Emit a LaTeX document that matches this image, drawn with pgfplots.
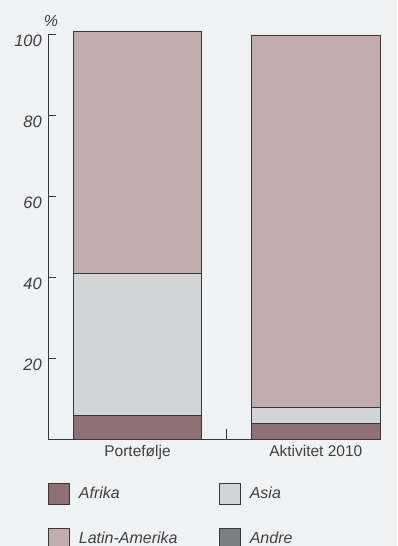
\documentclass[border=0pt]{standalone}
\usepackage{fontspec}
\setmainfont{Liberation Sans}
\usepackage{pgfplots}
\pgfplotsset{compat=1.18}

\definecolor{bg}{HTML}{F1F2F4}
\definecolor{afrika}{HTML}{8E7174}
\definecolor{asia}{HTML}{D3D4D6}
\definecolor{latin}{HTML}{BFAEAD}
\definecolor{andre}{HTML}{7E7F83}
\definecolor{ink}{HTML}{383838}
\definecolor{txt}{HTML}{404040}

\pgfplotsset{
  sq/.style={legend image code/.code={%
    \draw[##1, draw=ink, line width=0.8pt] (0pt,-10.5pt) rectangle (21pt,10.5pt);}},
}

\begin{document}
\begin{tikzpicture}
\fill[bg] (0,0) rectangle (397pt,546pt);
\useasboundingbox (0,0) rectangle (397pt,546pt);
\begin{axis}[
  at={(48.35pt,106.5pt)}, anchor=south west,
  scale only axis, width=332.5pt, height=404.5pt,
  xmin=-0.5, xmax=1.365, ymin=0, ymax=100,
  clip=false,
  axis x line=bottom, axis y line=left,
  axis line style={-, draw=ink, line width=1pt},
  tick style={draw=ink, line width=1pt},
  major tick length=10pt,
  tick align=inside,
  ybar stacked, bar width=128.4pt,
  % separator tick between the two columns
  xtick={0.5}, xticklabels={},
  extra x ticks={0,1},
  extra x tick labels={Portefølje, Aktivitet 2010},
  extra x tick style={major tick length=0pt},
  xticklabel style={anchor=north, inner sep=0pt, yshift=-6pt,
    font=\fontsize{15.5}{16}\selectfont, text=txt},
  ytick=\empty,
  extra y ticks={20,40,60,80,100},
  extra y tick style={major tick length=8pt},
  yticklabel style={anchor=north east, inner sep=0pt, xshift=-6.3pt,
    font=\fontsize{16.5}{16}\selectfont\itshape, text=txt},
  /pgf/number format/assume math mode=true,
  ylabel={\%},
  ylabel style={at={(axis description cs:0.008,1.0346)}, rotate=-90,
    anchor=center, inner sep=0pt, font=\fontsize{16}{16}\selectfont\itshape, text=txt},
  legend columns=2, legend cell align=left,
  legend style={at={(axis description cs:-0.002,-0.1068)}, anchor=north west,
    draw=none, fill=none, inner sep=0pt, outer sep=0pt,
    nodes={inner sep=0pt},
    font=\fontsize{16}{16}\selectfont\itshape, text=txt,
    row sep=23.5pt,
    /tikz/every odd column/.append style={column sep=9.4pt},
    /tikz/every even column/.append style={column sep=41pt}},
  every axis plot/.append style={draw=ink, line width=0.8pt},
]
\addplot[fill=afrika, sq] coordinates {(0,6) (1,4)};
\addlegendentry{Afrika}
\addplot[fill=asia, sq] coordinates {(0,35) (1,4)};
\addlegendentry{Asia}
\addplot[fill=latin, sq] coordinates {(0,59.8) (1,92)};
\addlegendentry{Latin-Amerika}
\addlegendimage{fill=andre, sq}
\addlegendentry{Andre}
\end{axis}
\end{tikzpicture}
\end{document}
